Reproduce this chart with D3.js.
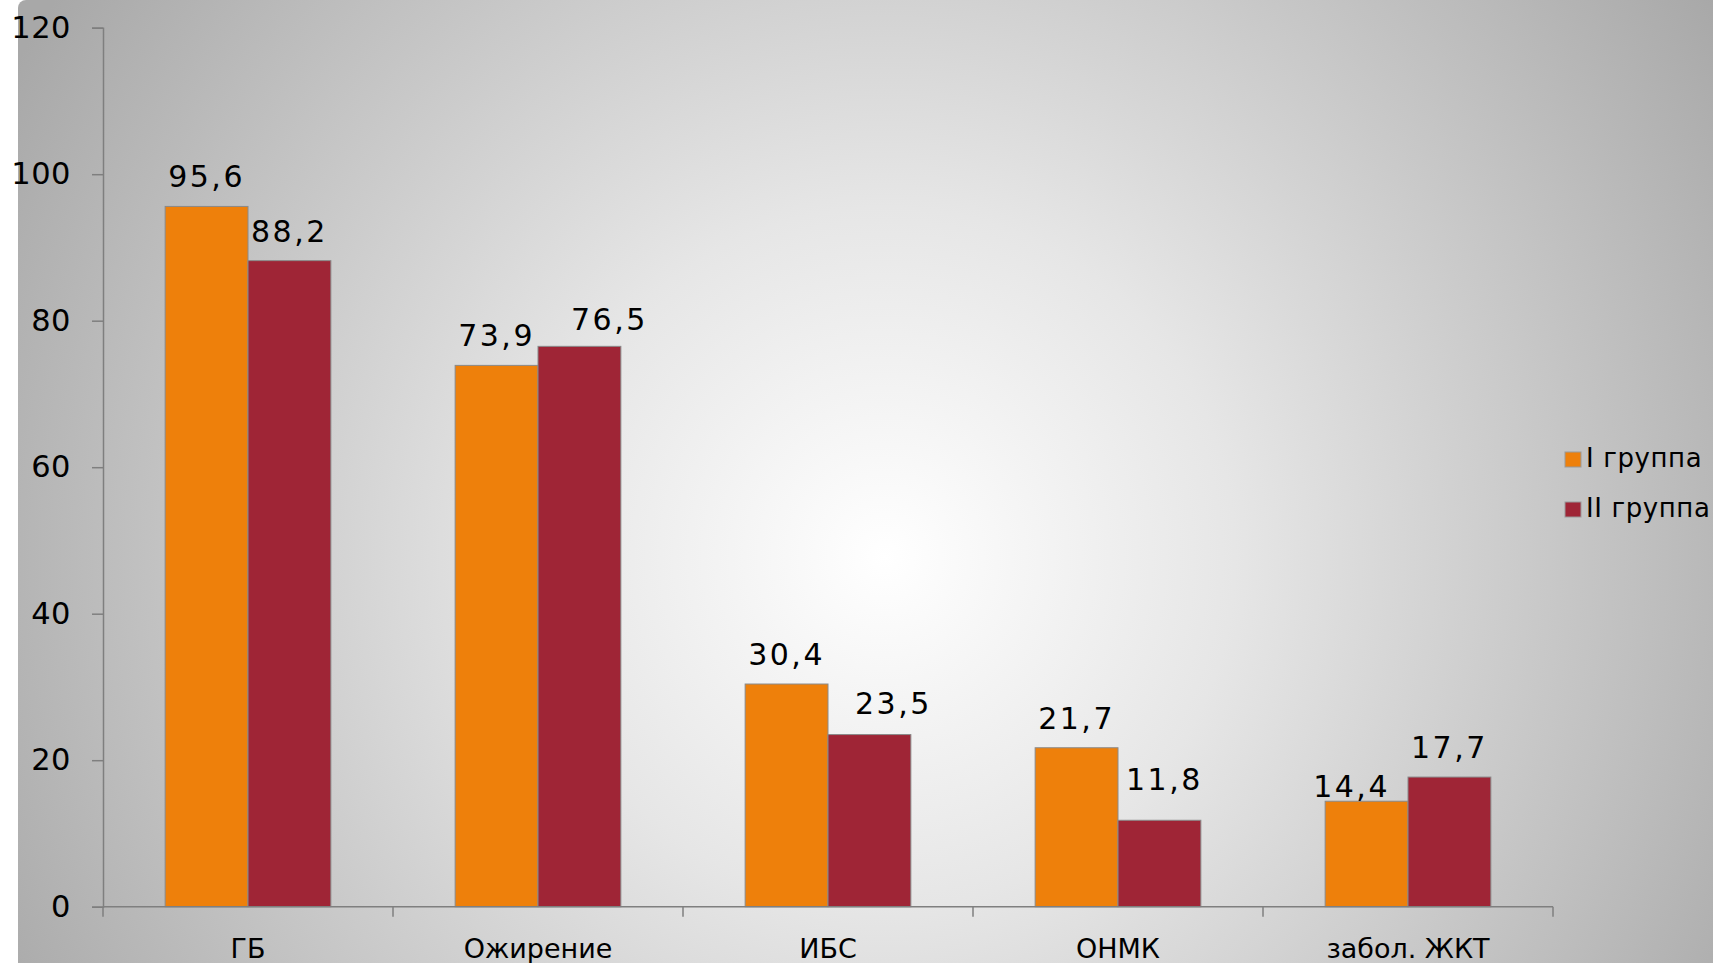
<!DOCTYPE html>
<html>
  <head>
    <meta charset="utf-8">
    <script src="https://cdn.jsdelivr.net/npm/d3@7"></script>
    <style>
      body { margin: 0; background: #fff; }
      text { font-family: "DejaVu Sans", Verdana, sans-serif; fill: #000; }
    </style>
  </head>
  <body>
    <svg id="chart"></svg>
    <script>
// grouped bar chart, two groups of patients
var width = 1713;
var height = 963;

// data
var categories = ["ГБ", "Ожирение", "ИБС", "ОНМК", "забол. ЖКТ"];
var series = ["I группа", "II группа"];
var group1 = [95.6, 73.9, 30.4, 21.7, 14.4];
var group2 = [88.2, 76.5, 23.5, 11.8, 17.7];
var yTicks = [0, 20, 40, 60, 80, 100, 120];

var colors = ["#ee800b", "#9f2536"];

// Excel nudged a few labels off-centre, keep that look
var labelNudge = [
  [[0, 0], [0, 0]],
  [[0, 0], [30, 3]],
  [[0, 0], [24, -2]],
  [[0, 0], [5, -11]],
  [[-15, 15], [0, 0]]
];

var margin = { left: 103, top: 27.7, bottom: 56.3 };
var axisRight = 1553;

var svg = d3.select("#chart")
  .attr("width", width)
  .attr("height", height);

// background: grey radial gradient
var defs = svg.append("defs");
var grad = defs.append("radialGradient")
  .attr("id", "bg")
  .attr("gradientUnits", "userSpaceOnUse")
  .attr("cx", 885).attr("cy", 557)
  .attr("r", 1000);
grad.append("stop").attr("offset", "0").attr("stop-color", "#ffffff");
grad.append("stop").attr("offset", "0.35").attr("stop-color", "#e6e6e6");
grad.append("stop").attr("offset", "1").attr("stop-color", "#a8a8a8");

svg.append("rect")
  .attr("x", 18).attr("y", 0)
  .attr("width", width).attr("height", height + 20)
  .attr("rx", 8)
  .attr("fill", "url(#bg)");

// scales
var x = d3.scaleBand()
  .domain(categories)
  .range([margin.left, axisRight])
  .padding(0);

var x1 = d3.scaleBand()
  .domain(series)
  .range([0, x.bandwidth()])
  .paddingOuter(0.75)
  .paddingInner(0);

var y = d3.scaleLinear()
  .domain([0, 120])
  .range([height - margin.bottom, margin.top]);

var fmt = d3.formatLocale({ decimal: ",", thousands: " ", grouping: [3], currency: ["", ""] }).format(".1f");

// y axis
var yAxis = svg.append("g")
  .attr("transform", "translate(" + margin.left + ",0)")
  .call(d3.axisLeft(y).tickValues(yTicks).tickSize(11).tickPadding(21).tickFormat(d3.format("d")));
yAxis.select(".domain").attr("stroke", "#7f7f7f").attr("stroke-width", 1.5);
yAxis.selectAll(".tick line").attr("stroke", "#7f7f7f").attr("stroke-width", 1.5);
yAxis.selectAll(".tick text")
  .attr("font-size", 30.5)
  .attr("font-family", "DejaVu Sans")
  .attr("letter-spacing", 0.5)
  .attr("fill", "#000");

// bars
var rows = categories.map(function(c, i) {
  return { cat: c, i: i, vals: [group1[i], group2[i]] };
});

var grp = svg.append("g")
  .selectAll("g")
  .data(rows)
  .join("g")
  .attr("transform", d => "translate(" + x(d.cat) + ",0)");

grp.selectAll("rect")
  .data(d => d.vals.map((v, k) => ({ s: series[k], k: k, v: v })))
  .join("rect")
  .attr("x", d => x1(d.s))
  .attr("y", d => y(d.v))
  .attr("width", x1.bandwidth())
  .attr("height", d => y(0) - y(d.v))
  .attr("fill", d => colors[d.k])
  .attr("stroke", "#8a8a8a")
  .attr("stroke-width", 1);

// value labels
grp.selectAll("text.val")
  .data(d => d.vals.map((v, k) => ({ s: series[k], k: k, v: v, n: labelNudge[d.i][k] })))
  .join("text")
  .attr("class", "val")
  .attr("text-anchor", "middle")
  .attr("x", d => x1(d.s) + x1.bandwidth() / 2 + d.n[0])
  .attr("y", d => y(d.v) - 19 + d.n[1])
  .attr("font-size", 30)
  .attr("letter-spacing", 2.5)
  .text(d => fmt(d.v));

// x axis: line plus ticks at band edges
var xAxis = svg.append("g");
xAxis.append("line")
  .attr("x1", margin.left).attr("x2", axisRight)
  .attr("y1", y(0)).attr("y2", y(0))
  .attr("stroke", "#7f7f7f").attr("stroke-width", 1.5);

var edges = categories.map(c => x(c)).concat([axisRight]);
xAxis.selectAll("line.tk")
  .data(edges)
  .join("line")
  .attr("class", "tk")
  .attr("x1", d => d).attr("x2", d => d)
  .attr("y1", y(0)).attr("y2", y(0) + 10)
  .attr("stroke", "#7f7f7f").attr("stroke-width", 1.5);

xAxis.selectAll("text")
  .data(categories)
  .join("text")
  .attr("text-anchor", "middle")
  .attr("x", d => x(d) + x.bandwidth() / 2)
  .attr("y", 958)
  .attr("font-size", 27)
  .text(d => d);

// legend
var legend = svg.append("g")
  .attr("transform", "translate(1565,452)")
  .selectAll("g")
  .data(series)
  .join("g")
  .attr("transform", (d, i) => "translate(0," + i * 50 + ")");

legend.append("rect")
  .attr("width", 16).attr("height", 15)
  .attr("fill", (d, i) => colors[i])
  .attr("stroke", "#999").attr("stroke-width", 1);

legend.append("text")
  .attr("x", 21)
  .attr("y", 15)
  .attr("font-size", 26)
  .attr("letter-spacing", 0.6)
  .text(d => d);
    </script>
  </body>
</html>
